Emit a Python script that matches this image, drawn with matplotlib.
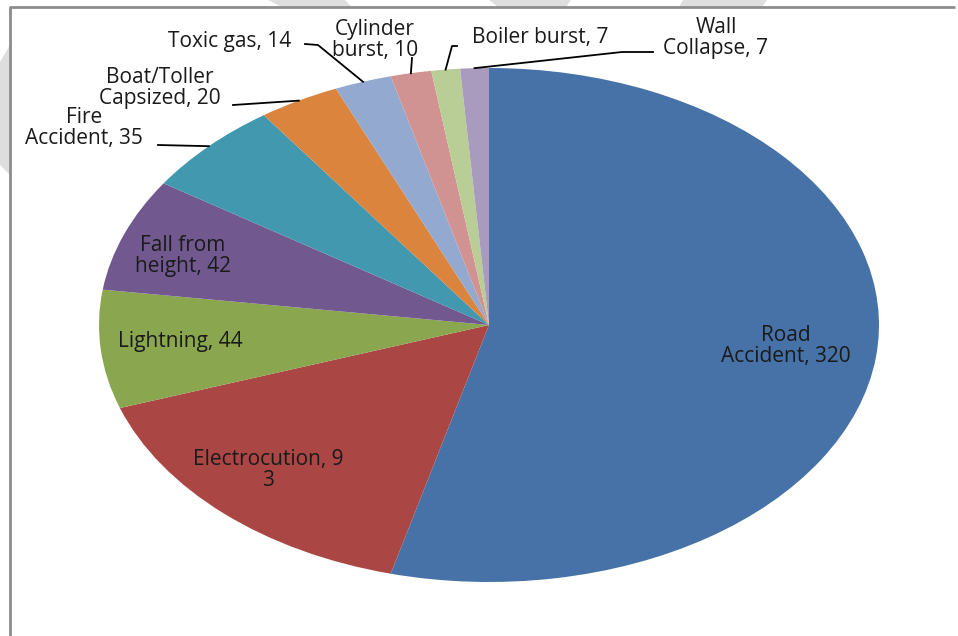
import numpy as np
import matplotlib.pyplot as plt
from matplotlib.patches import Polygon

plt.rcParams['font.family'] = ['Open Sans', 'DejaVu Sans']

# data
causes = ['Road\nAccident', 'Electrocution', 'Lightning', 'Fall from\nheight', 'Fire\nAccident',
          'Boat/Toller\nCapsized', 'Toxic gas', 'Cylinder\nburst', 'Boiler burst', 'Wall\nCollapse']
deaths = [320, 93, 44, 42, 35, 20, 14, 10, 7, 7]
colors = ['#4672a8', '#aa4644', '#8aa64f', '#71598f', '#4298af',
          '#db843d', '#93a9cf', '#d19392', '#b9cd96', '#a99bbd']

# label text (Excel wrapping) and positions in pixels
label_text = ['Road\nAccident, 320', 'Electrocution, 9\n3', 'Lightning, 44', 'Fall from\nheight, 42',
              'Fire\nAccident, 35', 'Boat/Toller\nCapsized, 20', 'Toxic gas, 14', 'Cylinder\nburst, 10',
              'Boiler burst, 7', 'Wall\nCollapse, 7']
label_pos = [(786, 346), (268, 470), (180, 342), (183, 256), (84, 128),
             (160, 88), (230, 41), (375, 40), (540, 38), (716, 38)]
# leader line points from the label side (pie end is computed from wedge)
leaders = {4: [(158, 145)], 5: [(233, 105)], 6: [(305, 44), (318, 45)],
           7: [(412, 58)], 8: [(457, 46), (452, 46)], 9: [(653, 52), (622, 52)]}

W, H = 958, 636
cx, cy, rx, ry = 489, 325, 390, 257

fig = plt.figure(figsize=(W / 100, H / 100), dpi=100)
bg = fig.add_axes([0, 0, 1, 1])
bg.axis('off')

# faded watermark pieces outside chart area
for pts in [[(268, 0), (345, 0), (352, 7), (282, 7)],
            [(489, 0), (571, 0), (566, 7), (498, 7)],
            [(683, 0), (767, 0), (762, 7), (679, 7)],
            [(0, 62), (10, 45), (10, 175), (0, 165)]]:
    bg.add_patch(Polygon(pts, closed=True, color='#dedede', lw=0))

# chart border
bg.plot([10, 10, 955], [H, 7, 7], color='#8c8c8c', lw=2, solid_capstyle='butt')
bg.set_xlim(0, W)
bg.set_ylim(H, 0)

ax = fig.add_axes([0, 0, 1, 1])
wedges, _ = ax.pie(deaths, colors=colors, startangle=90, counterclock=False,
                   wedgeprops=dict(linewidth=0))
ax.set_aspect('auto')
ax.axis('off')


def to_px(X, Y):
    return cx + rx * X, cy - ry * Y


for i, (txt, (x, y)) in enumerate(zip(label_text, label_pos)):
    ax.text(x, y, txt, transform=bg.transData, ha='center', va='center',
            fontsize=15, color='#1a1a1a', linespacing=1.0)

for i, pts in leaders.items():
    w = wedges[i]
    mid = np.deg2rad((w.theta1 + w.theta2) / 2)
    ex, ey = to_px(np.cos(mid), np.sin(mid))
    xs = [p[0] for p in pts] + [ex]
    ys = [p[1] for p in pts] + [ey]
    ax.plot(xs, ys, color='black', lw=1.3, transform=bg.transData)

ax.set_xlim(-cx / rx, (W - cx) / rx)
ax.set_ylim((cy - H) / ry, cy / ry)

fig.savefig('out.png', dpi=100, facecolor='white')
